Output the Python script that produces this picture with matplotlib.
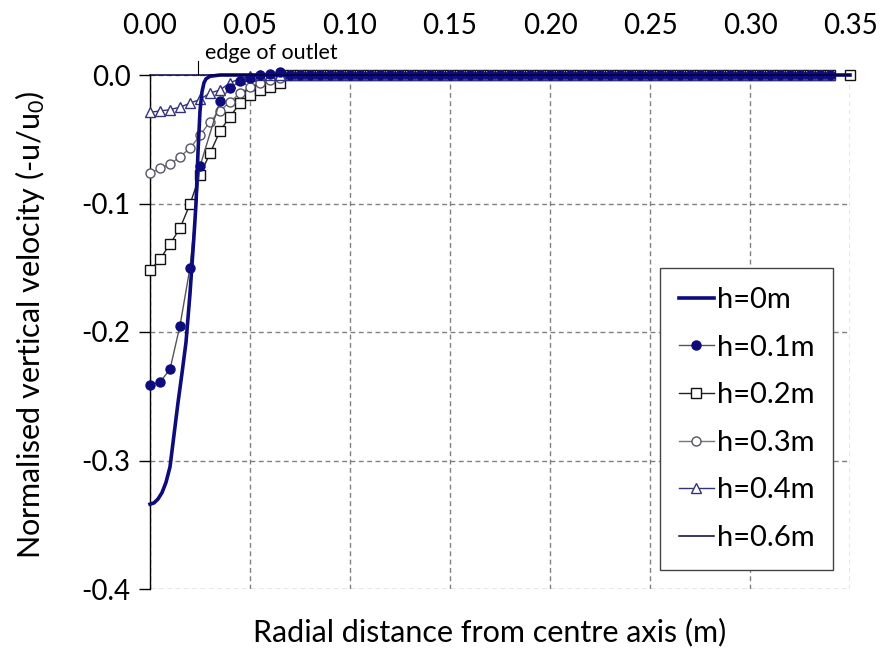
import numpy as np
import matplotlib
matplotlib.use("Agg")
import matplotlib.pyplot as plt
from matplotlib.ticker import FormatStrFormatter

plt.rcParams['font.family'] = ['Lato', 'DejaVu Sans']
plt.rcParams['mathtext.default'] = 'regular'

# far field: all profiles sit on zero here
far_r = np.round(np.arange(0.070, 0.3401, 0.005), 3)
far_v = np.zeros_like(far_r)

# h = 0 m (outlet plane, continuous line)
h0_r = [0.0, 0.002, 0.004, 0.006, 0.008, 0.010, 0.012, 0.014, 0.016, 0.018,
        0.020, 0.022, 0.023, 0.024, 0.025, 0.026, 0.027, 0.028, 0.030, 0.035,
        0.05, 0.35]
h0_v = [-0.334, -0.333, -0.330, -0.325, -0.317, -0.305, -0.280, -0.255, -0.232, -0.208,
        -0.170, -0.125, -0.100, -0.060, -0.028, -0.013, -0.006, -0.003, -0.001, 0.0,
        0.0, 0.0]

# h = 0.1 m
h01_r = [0.0, 0.005, 0.010, 0.015, 0.020, 0.025, 0.035, 0.040, 0.045, 0.050,
         0.055, 0.060, 0.065]
h01_v = [-0.241, -0.239, -0.229, -0.195, -0.150, -0.071, -0.020, -0.010, -0.005, -0.002,
         0.0, 0.001, 0.002]

# h = 0.2 m
h02_r = [0.0, 0.005, 0.010, 0.015, 0.020, 0.025, 0.030, 0.035, 0.040, 0.045,
         0.050, 0.055, 0.060, 0.065]
h02_v = [-0.152, -0.1434, -0.1315, -0.1193, -0.1004, -0.0778, -0.061, -0.0436, -0.0324, -0.022,
         -0.0156, -0.0117, -0.009, -0.0065]

# h = 0.3 m
h03_r = [0.0, 0.005, 0.010, 0.015, 0.020, 0.025, 0.030, 0.035, 0.040, 0.045,
         0.050, 0.055, 0.060, 0.065]
h03_v = [-0.0765, -0.0726, -0.0695, -0.0636, -0.057, -0.047, -0.0363, -0.028, -0.0208, -0.0143,
         -0.009, -0.006, -0.004, -0.002]

# h = 0.4 m
h04_r = [0.0, 0.005, 0.010, 0.015, 0.020, 0.025, 0.030, 0.035, 0.040, 0.045,
         0.050, 0.055, 0.060, 0.065]
h04_v = [-0.029, -0.028, -0.027, -0.025, -0.022, -0.019, -0.014, -0.0117, -0.006, -0.003,
         -0.001, 0.0, 0.0, 0.0]

# h = 0.6 m
h06_r = [0.0, 0.35]
h06_v = [0.0, 0.0]

outlet_edge = 0.024

x_ticks = [0.00, 0.05, 0.10, 0.15, 0.20, 0.25, 0.30, 0.35]
y_ticks = [-0.4, -0.3, -0.2, -0.1, 0.0]

navy = '#0c0c7c'

fig = plt.figure(figsize=(8.8, 6.5), dpi=100)
ax = fig.add_axes([150 / 880, 61 / 650, 700 / 880, 514 / 650])

ax.plot(h0_r, h0_v, color=navy, lw=2.6, label='h=0m', zorder=5, clip_on=False)
ax.plot(np.r_[h01_r, far_r], np.r_[h01_v, far_v], color='#555555', lw=1,
        marker='o', ms=6.5, mfc=navy, mec=navy, label='h=0.1m', zorder=4, clip_on=False)
ax.plot(np.r_[h02_r, far_r, 0.35], np.r_[h02_v, far_v, 0.0], color='#222222', lw=1,
        marker='s', ms=6.5, mfc='white', mec='#111111', mew=1, label='h=0.2m', zorder=3, clip_on=False)
ax.plot(np.r_[h03_r, far_r], np.r_[h03_v, far_v], color='#777777', lw=1,
        marker='o', ms=6.5, mfc='white', mec='#555566', mew=1, label='h=0.3m', zorder=3, clip_on=False)
ax.plot(np.r_[h04_r, far_r], np.r_[h04_v, far_v], color='#33337a', lw=1,
        marker='^', ms=6.5, mfc='white', mec='#33337a', mew=1, label='h=0.4m', zorder=3, clip_on=False)
ax.plot(h06_r, h06_v, color='#000040', lw=1.1, label='h=0.6m', zorder=6, clip_on=False)

# edge of outlet marker
ax.plot([outlet_edge, outlet_edge], [0.0, 0.011], color='black', lw=0.8, clip_on=False)
ax.text(outlet_edge + 0.0035, 0.0175, 'edge of outlet', fontsize=15.5, va='center', ha='left')

ax.set_xlim(0, 0.35)
ax.set_ylim(-0.4, 0.0)
ax.set_xticks(x_ticks)
ax.set_yticks(y_ticks)
ax.xaxis.set_major_formatter(FormatStrFormatter('%.2f'))
ax.yaxis.set_major_formatter(FormatStrFormatter('%.1f'))
ax.xaxis.tick_top()
ax.tick_params(axis='x', length=0, pad=26, labelsize=20)
ax.tick_params(axis='y', direction='out', length=8, width=1, pad=6, labelsize=20)

for s in ['top', 'right', 'bottom']:
    ax.spines[s].set_visible(False)
ax.spines['left'].set_linewidth(1)

ax.grid(True, color='#808080', ls=(0, (3.5, 2.5)), lw=1)
ax.set_axisbelow(True)

fig.text(490 / 880, 1 - 632 / 650, 'Radial distance from centre axis (m)',
         fontsize=22, ha='center', va='center')
fig.text(30 / 880, 1 - 325 / 650, 'Normalised vertical velocity (-u/u$_0$)',
         fontsize=22, ha='center', va='center', rotation=90)

leg = ax.legend(loc='upper left', bbox_to_anchor=(660 / 880, 1 - 268 / 650),
                bbox_transform=fig.transFigure, borderaxespad=0, fontsize=21,
                handlelength=1.2, handletextpad=0.1, labelspacing=0.74,
                fancybox=False, framealpha=1, edgecolor='#444444',
                borderpad=0.65)
leg.get_frame().set_linewidth(1)

fig.savefig('out.png', dpi=100)
